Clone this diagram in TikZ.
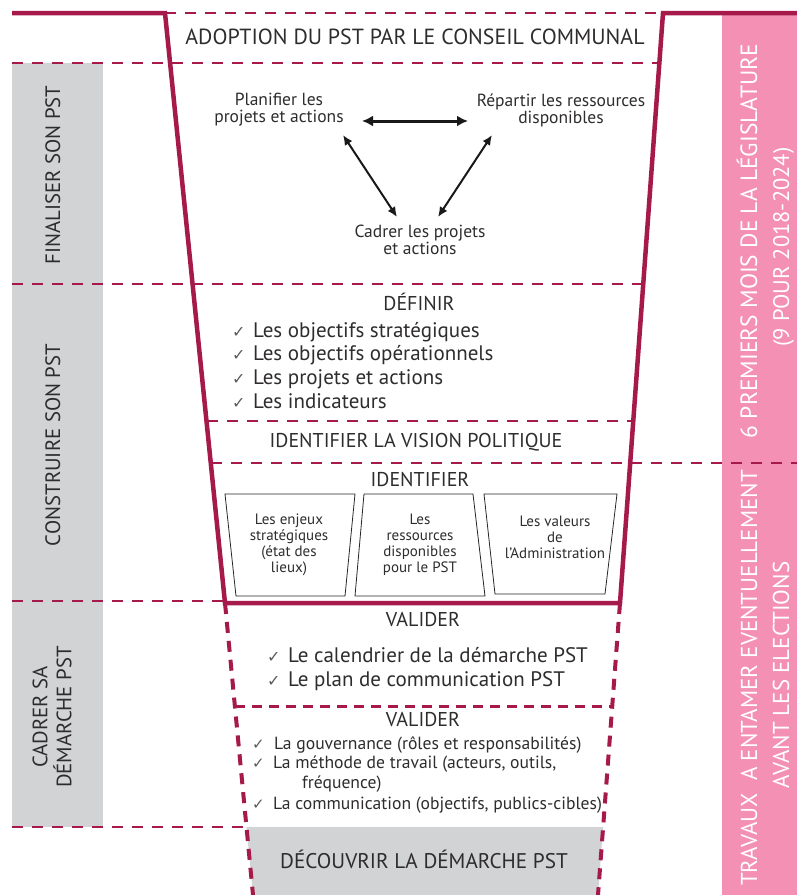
\documentclass[tikz,border=0pt]{standalone}
\usepackage{fontspec}
\setmainfont{PT Sans}
\newfontfamily\symfont{DejaVu Sans}
\usetikzlibrary{arrows.meta,calc}
\definecolor{mag}{HTML}{A6194B}
\definecolor{pinkbar}{HTML}{F390B4}
\definecolor{greybar}{HTML}{D1D3D4}
\definecolor{txt}{HTML}{2E2C2D}
\definecolor{chkc}{HTML}{5A5A5A}
\begin{document}
\begin{tikzpicture}[x=1pt,y=-1pt,
  thickline/.style={draw=mag,line width=4.5pt,line join=miter},
  thindash/.style={draw=mag,line width=1.8pt,dash pattern=on 11pt off 9pt},
  thickdash/.style={draw=mag,line width=4pt,dash pattern=on 11pt off 8pt},
  middash/.style={draw=mag,line width=3pt,dash pattern=on 10pt off 7pt},
  head/.style={font=\fontsize{20}{24}\selectfont,text=txt,inner sep=0pt,anchor=base},
  item/.style={font=\fontsize{21}{24}\selectfont,text=txt,inner sep=0pt,anchor=base west},
  itemsm/.style={font=\fontsize{17.6}{20}\selectfont,text=txt,inner sep=0pt,anchor=base west},
  chk/.style={font=\symfont\fontsize{16}{18}\selectfont,text=chkc,inner sep=0pt,anchor=base west},
  chksm/.style={font=\symfont\fontsize{15}{18}\selectfont,text=chkc,inner sep=0pt,anchor=base west},
  tri/.style={font=\fontsize{17.5}{17}\selectfont,align=center,text=txt,inner sep=0pt},
  boxt/.style={font=\fontsize{15}{16}\selectfont,align=center,text=txt,inner sep=0pt},
  side/.style={font=\fontsize{20.8}{24}\selectfont,align=center,rotate=90,text=txt,inner sep=0pt},
  pinkt/.style={font=\fontsize{23.5}{24}\selectfont,rotate=90,text=white,inner sep=0pt,anchor=base},
  trap/.style={draw=black!85,line width=0.8pt,line join=miter},
  bigarrow/.style={{Latex[length=11pt,width=11pt]}-{Latex[length=11pt,width=11pt]},line width=3pt,draw=black!90},
  diagarrow/.style={{Latex[length=10pt,width=9pt]}-{Latex[length=10pt,width=9pt]},line width=2pt,draw=black!90}
]
\useasboundingbox (0,0) rectangle (797,895);
% background bars
\fill[pinkbar] (722,15) rectangle (797,895);
\fill[greybar] (12,63) rectangle (103,827);
\fill[greybar] (246.5,827) -- (603.1,827) -- (598,895) -- (253,895) -- cycle;
% thin dashed separators
\draw[thindash] (165,13) -- (663,13);
\draw[thindash] (12,63) -- (659,63);
\draw[thindash] (12,284) -- (643,284);
\draw[thindash] (207,421) -- (633,421);
\draw[thindash] (211,463) -- (797,463);
\draw[thindash] (12,601) -- (225,601);
\draw[thindash] (12,827) -- (246.5,827);
% lower dashed funnel
\draw[thickdash] (225,603) -- (253,895);
\draw[thickdash] (620,603) -- (598,895);
\draw[middash] (235,706) -- (612,706);
% upper funnel
\draw[thickline] (12,13) -- (165,13) -- (225,603) -- (620,603) -- (663,13) -- (797,13);
% trapezoid boxes
\draw[trap] (225,494) -- (355,494) -- (345,596) -- (236,596) -- cycle;
\draw[trap] (364,494) -- (473,494) -- (485,596) -- (355,596) -- cycle;
\draw[trap] (484,494) -- (617,494) -- (605,594) -- (495,594) -- cycle;

% headers
\node[head,font=\fontsize{21.9}{24}\selectfont] (adopt) at (415,44) {ADOPTION DU PST PAR LE CONSEIL COMMUNAL};
\node[head] (definir) at (419,310) {DÉFINIR};
\node[head] (vision) at (416,447) {IDENTIFIER LA VISION POLITIQUE};
\node[head] (ident) at (420,486) {IDENTIFIER};
\node[head] (val1) at (423,626) {VALIDER};
\node[head] (val2) at (423,726) {VALIDER};
\node[head,font=\fontsize{21.2}{24}\selectfont] (dec) at (424,868) {DÉCOUVRIR LA DÉMARCHE PST};

% triangle
\node[tri] (plan) at (279,110) {Planifier les\\projets et actions};
\node[tri] (rep) at (561,110) {Répartir les ressources\\disponibles};
\node[tri] (cad) at (420,240) {Cadrer les projets\\et actions};
\draw[bigarrow] ($(plan.center)+(83,11)$) -- ($(rep.center)+(-93,11)$);
\draw[diagarrow] ($(plan.center)+(64,25)$) -- ($(cad.center)+(-23,-23)$);
\draw[diagarrow] ($(rep.center)+(-69,25)$) -- ($(cad.center)+(18,-23)$);

% definir list
\node[chk] (dc1) at (232,337) {✓};
\node[item] (d1) at (253,337) {Les objectifs stratégiques};
\node[chk] (dc2) at (232,360) {✓};
\node[item] (d2) at (253,360) {Les objectifs opérationnels};
\node[chk] (dc3) at (232,384) {✓};
\node[item] (d3) at (253,384) {Les projets et actions};
\node[chk] (dc4) at (232,408) {✓};
\node[item] (d4) at (253,408) {Les indicateurs};

% boxes text
\node[boxt] (b1) at (289,545) {Les enjeux\\stratégiques\\(état des\\lieux)};
\node[boxt] (b2) at (420,545) {Les\\ressources\\disponibles\\pour le PST};
\node[boxt] (b3) at (555,537) {Les valeurs\\de\\l’Administration};

% valider 1
\node[chk] (vc1) at (267,662) {✓};
\node[item] (v1) at (288,662) {Le calendrier de la démarche PST};
\node[chk] (vc2) at (267,686) {✓};
\node[item] (v2) at (288,686) {Le plan de communication PST};

% valider 2
\node[chksm] (wc1) at (252,749) {✓};
\node[itemsm] (w1) at (274,749) {La gouvernance (rôles et responsabilités)};
\node[chksm] (wc2) at (252,768) {✓};
\node[itemsm] (w2) at (273,768) {La méthode de travail (acteurs, outils,};
\node[itemsm] (w2b) at (302,788) {fréquence)};
\node[chksm] (wc3) at (252,809) {✓};
\node[itemsm] (w3) at (273,809) {La communication (objectifs, publics-cibles)};

% left side labels
\node[side,anchor=base] (s1) at (60,175) {FINALISER SON PST};
\node[side,anchor=base] (s2) at (60,445) {CONSTRUIRE SON PST};
\node[side] (s3) at (52,717) {CADRER SA\\DÉMARCHE PST};

% pink labels
\node[pinkt] (p1) at (757,241) {6 PREMIERS MOIS DE LA LÉGISLATURE};
\node[pinkt,font=\fontsize{22.5}{24}\selectfont] (p2) at (789,247) {(9 POUR 2018-2024)};
\node[pinkt,font=\fontsize{23}{24}\selectfont] (p3) at (757,678) {TRAVAUX\ \ A ENTAMER EVENTUELLEMENT};
\node[pinkt,font=\fontsize{23}{24}\selectfont] (p4) at (789,675) {AVANT LES ELECTIONS};
\end{tikzpicture}
\end{document}
